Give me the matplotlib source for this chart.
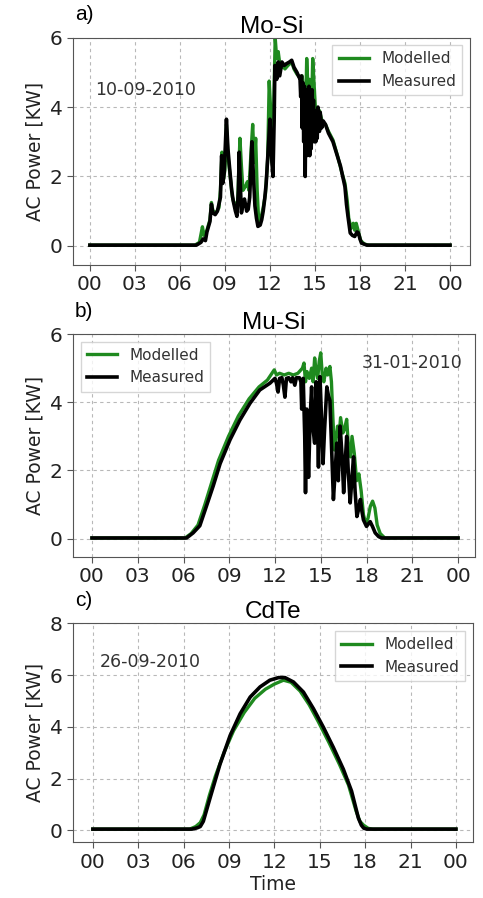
import matplotlib
matplotlib.use("Agg")
import matplotlib.pyplot as plt

# ---- data (hours of day, kW) ----
mosi_meas_t = [0, 7.1, 7.4, 7.55, 7.7, 7.8, 8.0, 8.1, 8.2, 8.35, 8.5, 8.7, 8.78, 8.85, 8.95, 9.1, 9.2, 9.3,
               9.45, 9.55, 9.7, 9.8, 9.9, 9.95, 10.05, 10.1, 10.2, 10.3, 10.45, 10.55, 10.65, 10.8, 10.9, 11.0,
               11.1, 11.2, 11.35, 11.45, 11.55, 11.65, 11.75, 11.9, 12.0, 12.1, 12.2, 12.28, 12.33, 12.45, 12.55,
               12.65, 12.8, 12.95, 13.1, 13.3, 13.45, 13.6, 13.8, 13.95, 14.0, 14.05, 14.1, 14.15, 14.2, 14.25,
               14.3, 14.35, 14.4, 14.45, 14.5, 14.55, 14.6, 14.65, 14.7, 14.75, 14.8, 14.85, 14.9, 14.95,
               15.0, 15.05, 15.1, 15.15, 15.2, 15.3, 15.35, 15.45, 15.55, 15.7, 15.9, 16.2, 16.45, 16.7, 16.9,
               17.0, 17.1, 17.2, 17.35, 17.5, 17.65, 17.8, 17.9, 18.0, 18.1, 18.45, 24]
mosi_meas = [0.02, 0.02, 0.1, 0.2, 0.15, 0.4, 0.7, 1.2, 0.95, 0.9, 1.0, 1.4, 2.6, 1.8, 2.1, 3.65, 2.8, 2.3,
             1.6, 1.3, 1.0, 0.85, 1.6, 2.7, 1.5, 0.95, 1.2, 1.35, 1.0, 1.05, 1.4, 3.0, 2.0, 1.15,
             0.8, 0.56, 0.6, 0.75, 1.0, 1.35, 1.8, 2.9, 3.65, 2.6, 2.0, 3.6, 5.2, 4.8, 5.3,
             4.9, 5.3, 5.2, 5.25, 5.3, 5.35, 5.15, 5.0, 4.85, 4.85, 4.3, 4.9, 3.4, 4.7, 3.0,
             4.6, 2.0, 4.5, 2.6, 4.4, 3.2, 4.6, 2.6, 4.3, 2.8, 4.5, 3.6, 4.2, 3.0,
             3.9, 3.0, 3.8, 3.1, 4.0, 3.3, 3.85, 3.4, 3.6, 3.5, 3.25, 3.0, 2.65, 2.3, 1.9,
             1.7, 1.2, 0.85, 0.37, 0.3, 0.27, 0.4, 0.37, 0.2, 0.08, 0.02, 0.02]
mosi_mod_t = [0, 7.0, 7.3, 7.5, 7.6, 7.8, 8.0, 8.1, 8.2, 8.4, 8.6, 8.7, 8.8, 8.9, 9.0, 9.1, 9.2, 9.35, 9.5,
              9.7, 9.85, 10.0, 10.1, 10.2, 10.35, 10.5, 10.6, 10.75, 10.85, 10.95, 11.05, 11.15, 11.25, 11.4,
              11.55, 11.7, 11.85, 11.95, 12.05, 12.15, 12.25, 12.35, 12.45, 12.55, 12.7, 12.85, 13.0, 13.2,
              13.45, 13.6, 13.8, 14.0, 14.15, 14.25, 14.35, 14.45, 14.55, 14.65, 14.75, 14.85, 14.95, 15.05,
              15.15, 15.3, 15.5, 15.7, 15.9, 16.2, 16.5, 16.8, 17.0, 17.15, 17.25, 17.4, 17.55, 17.65, 17.75,
              17.9, 18.05, 18.3, 18.6, 24]
mosi_mod = [0.02, 0.02, 0.1, 0.55, 0.3, 0.45, 0.75, 1.25, 1.0, 0.95, 1.1, 1.6, 2.7, 1.9, 2.2, 3.5, 2.6, 2.0, 1.4,
            1.1, 1.3, 3.1, 2.3, 1.6, 1.7, 1.85, 1.6, 2.8, 3.5, 2.4, 3.1, 1.6, 0.7, 0.8,
            1.1, 1.5, 2.5, 4.75, 3.9, 2.4, 4.0, 6.0, 5.4, 5.6, 5.1, 5.2, 5.1, 5.2,
            5.3, 5.1, 4.95, 4.85, 4.9, 4.3, 3.2, 5.4, 4.4, 4.8, 3.5, 5.4, 4.6, 3.8,
            3.6, 3.9, 3.55, 3.5, 3.3, 3.05, 2.6, 2.1, 1.8, 1.3, 0.8, 0.5, 0.65, 0.45, 0.65,
            0.4, 0.15, 0.05, 0.02, 0.02]

musi_meas_t = [0, 6.2, 6.63, 7.07, 7.5, 7.95, 8.4, 9.05, 9.7, 10.36, 11.0, 11.67, 12.0, 12.1, 12.2, 12.3,
               12.45, 12.55, 12.65, 12.75, 12.9, 13.05, 13.15, 13.3, 13.4, 13.6, 13.7, 13.75, 13.85, 13.95,
               14.0, 14.08, 14.15, 14.2, 14.3, 14.4, 14.5, 14.6, 14.7, 14.78, 14.85, 14.95, 15.05, 15.15,
               15.25, 15.4, 15.5, 15.6, 15.7, 15.83, 15.95, 16.05, 16.15, 16.27, 16.4, 16.5, 16.6, 16.7,
               16.8, 16.93, 17.05, 17.15, 17.25, 17.37, 17.5, 17.6, 17.7, 17.8, 18.0, 18.15, 18.24, 18.4,
               18.57, 18.8, 19.0, 24]
musi_meas = [0.02, 0.02, 0.17, 0.38, 0.95, 1.55, 2.2, 2.9, 3.48, 3.97, 4.36, 4.56, 4.7, 4.55, 4.3, 4.7,
             4.72, 4.5, 4.15, 4.7, 4.72, 4.6, 4.72, 4.5, 4.72, 4.72, 4.6, 3.8, 4.7, 3.0,
             1.35, 3.8, 2.6, 1.8, 3.5, 4.45, 3.2, 2.8, 4.6, 3.6, 2.1, 4.75, 3.5, 2.2,
             3.2, 4.45, 4.2, 4.05, 2.8, 1.15, 2.0, 2.8, 1.7, 3.3, 2.4, 1.35, 2.2, 3.0,
             2.0, 1.05, 1.8, 2.4, 1.4, 0.65, 0.9, 1.15, 0.8, 0.55, 0.36, 0.45, 0.5, 0.35,
             0.17, 0.06, 0.02, 0.02]
musi_mod_t = [0, 6.1, 6.5, 6.95, 7.4, 7.85, 8.3, 8.95, 9.6, 10.3, 10.95, 11.5, 11.8, 11.95, 12.1, 12.3, 12.6,
              12.9, 13.2, 13.5, 13.8, 13.9, 14.0, 14.1, 14.25, 14.4, 14.5, 14.6, 14.7, 14.8, 14.9, 15.0,
              15.1, 15.2, 15.35, 15.45, 15.6, 15.7, 15.8, 15.9, 16.0, 16.1, 16.2, 16.3, 16.45, 16.55, 16.7,
              16.8, 16.95, 17.05, 17.2, 17.35, 17.5, 17.65, 17.8, 17.95, 18.1, 18.25, 18.4, 18.55, 18.7,
              18.9, 19.2, 24]
musi_mod = [0.02, 0.02, 0.15, 0.4, 1.0, 1.65, 2.3, 3.0, 3.6, 4.1, 4.45, 4.65, 4.85, 4.95, 4.8, 4.85, 4.8,
            4.85, 4.8, 4.85, 5.0, 5.15, 4.6, 4.9, 4.7, 5.0, 4.6, 5.3, 4.9, 4.7, 5.2, 5.45,
            4.8, 4.6, 5.0, 4.8, 5.05, 4.6, 3.5, 2.6, 2.9, 3.3, 3.0, 3.55, 3.1, 3.2, 3.5,
            2.8, 2.4, 3.0, 2.5, 1.7, 1.9, 1.4, 0.7, 0.45, 0.6, 0.95, 1.1, 0.9, 0.4,
            0.15, 0.02, 0.02]

cdte_meas_t = [0, 6.55, 6.9, 7.1, 7.3, 7.75, 8.4, 9.07, 9.73, 10.4, 11.05, 11.7, 12.27, 12.7, 13.26, 13.92,
               14.58, 15.24, 15.9, 16.56, 17.1, 17.55, 17.75, 17.9, 18.1, 24]
cdte_meas = [0.05, 0.05, 0.1, 0.15, 0.35, 1.26, 2.55, 3.66, 4.5, 5.15, 5.54, 5.8, 5.9, 5.9, 5.73, 5.34,
             4.7, 3.98, 3.2, 2.36, 1.52, 0.48, 0.2, 0.09, 0.05, 0.05]
cdte_mod_t = [0, 6.4, 6.8, 7.1, 7.35, 7.7, 8.1, 8.7, 9.3, 10.0, 10.7, 11.4, 12.0, 12.6, 13.1, 13.7, 14.3,
              14.9, 15.6, 16.3, 16.9, 17.4, 17.65, 17.9, 18.2, 18.5, 24]
cdte_mod = [0.05, 0.05, 0.15, 0.3, 0.6, 1.35, 2.1, 3.05, 3.85, 4.55, 5.1, 5.45, 5.65, 5.8, 5.72, 5.38, 4.85,
            4.2, 3.4, 2.55, 1.75, 0.75, 0.35, 0.2, 0.08, 0.05, 0.05]

hour_ticks = [0, 3, 6, 9, 12, 15, 18, 21, 24]
hour_labels = ["00", "03", "06", "09", "12", "15", "18", "21", "00"]

panels = [
    # letter, title, date, t_mod, mod, t_meas, meas, ymax, yticks
    ("a)", "Mo-Si", "10-09-2010", mosi_mod_t, mosi_mod, mosi_meas_t, mosi_meas, 6, [0, 2, 4, 6]),
    ("b)", "Mu-Si", "31-01-2010", musi_mod_t, musi_mod, musi_meas_t, musi_meas, 6, [0, 2, 4, 6]),
    ("c)", "CdTe", "26-09-2010", cdte_mod_t, cdte_mod, cdte_meas_t, cdte_meas, 8, [0, 2, 4, 6, 8]),
]

# axes boxes in figure fractions (left, bottom, width, height)
boxes = [(0.151, 0.705, 0.822, 0.253),
         (0.151, 0.380, 0.832, 0.248),
         (0.151, 0.062, 0.828, 0.244)]
ylows = [-0.55, -0.53, -0.46]
xlims = [(-1.13, 25.33), (-1.25, 25.1), (-1.32, 25.12)]
legend_locs = ["upper right", "upper left", "upper right"]
date_pos = [(0.055, 0.771, "left"), (0.970, 0.87, "right"), (0.0675, 0.822, "left")]

fig = plt.figure(figsize=(4.83, 8.98), dpi=100)

for i, (letter, title, date, tm, vm, tx, vx, ymax, yt) in enumerate(panels):
    ax = fig.add_axes(boxes[i])
    ax.plot(tm, vm, color="#1f8a1f", lw=2.4, label="Modelled")
    ax.plot(tx, vx, color="black", lw=2.6, label="Measured")

    ax.set_xlim(*xlims[i])
    ax.set_ylim(ylows[i], ymax)
    ax.set_xticks(hour_ticks)
    ax.set_xticklabels(hour_labels)
    ax.set_yticks(yt)
    ax.tick_params(labelsize=14.5, colors="#222222", length=4, color="#555555")
    ax.grid(True, color="#b8b8b8", linestyle=(0, (3, 3)), linewidth=0.8)
    for s in ax.spines.values():
        s.set_color("#555555")
    ax.set_ylabel("AC Power [KW]", fontsize=13.5, color="#222222", labelpad=4)

    leg = ax.legend(loc=legend_locs[i], fontsize=11, fancybox=False, edgecolor="#cccccc",
                    handlelength=2.0)
    for t in leg.get_texts():
        t.set_color("#333333")

    dx, dy, ha = date_pos[i]
    ax.text(dx, dy, date, transform=ax.transAxes, ha=ha, va="center", fontsize=12.5, color="#333333")

    ax.set_title(title, fontsize=17.5, family="Liberation Sans", pad=3)
    ax.text(0.005, 1.06, letter, transform=ax.transAxes, fontsize=15, family="Liberation Sans",
            va="bottom", ha="left")

    if i == 2:
        ax.set_xlabel("Time", fontsize=13.5, color="#222222", labelpad=2)

fig.savefig("out.png", dpi=100)
